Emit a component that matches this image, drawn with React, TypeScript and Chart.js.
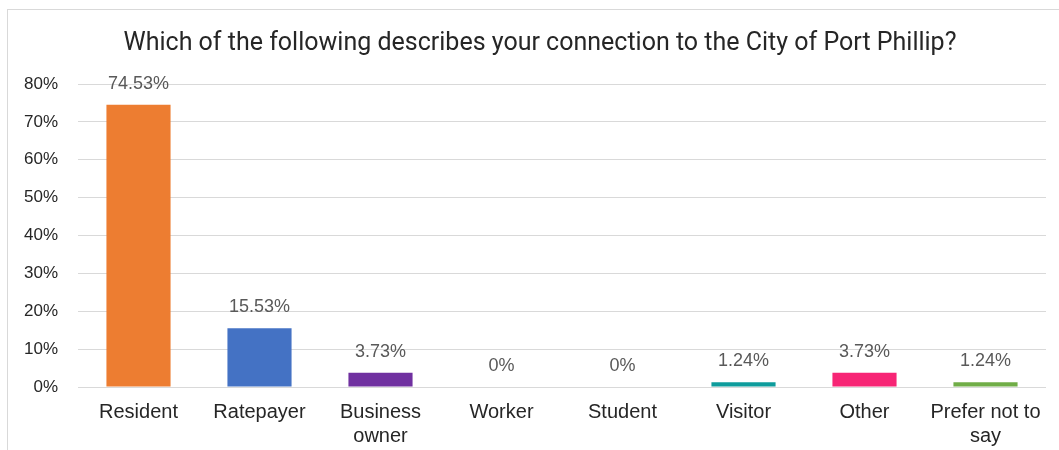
import React, { useEffect, useRef } from "react";
import { Chart, registerables } from "chart.js";

Chart.register(...registerables);

const TITLE = "Which of the following describes your connection to the City of Port Phillip?";
const categories: (string | string[])[] = [
  "Resident",
  "Ratepayer",
  ["Business", "owner"],
  "Worker",
  "Student",
  "Visitor",
  "Other",
  ["Prefer not to", "say"],
];
const values = [74.53, 15.53, 3.73, 0, 0, 1.24, 3.73, 1.24];
const barColors = ["#ED7D31", "#4472C4", "#7030A0", "#A5A5A5", "#FFC000", "#0E9C9C", "#F72575", "#70AD47"];
const yTicks = [0, 10, 20, 30, 40, 50, 60, 70, 80];

const valueLabels = {
  id: "valueLabels",
  afterDatasetsDraw(chart: any) {
    const ctx = chart.ctx;
    const meta = chart.getDatasetMeta(0);
    ctx.save();
    ctx.font = "18px 'Liberation Sans', Arial, sans-serif";
    ctx.fillStyle = "#595959";
    ctx.textAlign = "center";
    ctx.textBaseline = "middle";
    meta.data.forEach((bar: any, i: number) => {
      const v = values[i];
      const txt = (v === 0 ? "0" : v.toFixed(2)) + "%";
      ctx.fillText(txt, bar.x, bar.y - 21);
    });
    ctx.restore();
  },
};

const titlePlugin = {
  id: "fixedTitle",
  afterDraw(chart: any) {
    const ctx = chart.ctx;
    ctx.save();
    ctx.font = "25px Roboto, 'DejaVu Sans Condensed', sans-serif";
    ctx.fillStyle = "#262626";
    ctx.textAlign = "center";
    ctx.textBaseline = "middle";
    ctx.fillText(TITLE, 540, 44);
    ctx.restore();
  },
};

export default function App() {
  const ref = useRef<HTMLCanvasElement | null>(null);
  useEffect(() => {
    if (!ref.current) return;
    const chart = new Chart(ref.current, {
      type: "bar",
      data: {
        labels: categories,
        datasets: [
          {
            data: values,
            backgroundColor: barColors,
            borderWidth: 0,
            categoryPercentage: 1,
            barPercentage: 0.53,
          },
        ],
      },
      options: {
        animation: false,
        responsive: false,
        maintainAspectRatio: false,
        layout: { padding: { left: 0, right: 13, top: 84, bottom: 0 } },
        plugins: {
          legend: { display: false },
          tooltip: { enabled: false },
          title: { display: false },
        },
        scales: {
          x: {
            afterFit(axis: any) {
              axis.height = 63;
            },
            grid: { display: false, drawTicks: false },
            border: { display: false },
            ticks: {
              color: "#262626",
              padding: 13,
              maxRotation: 0,
              autoSkip: false,
              font: { family: "'Liberation Sans', Arial, sans-serif", size: 20, lineHeight: 1.2 },
            },
          },
          y: {
            min: 0,
            max: 80,
            afterBuildTicks(axis: any) {
              axis.ticks = yTicks.map((v) => ({ value: v }));
            },
            afterFit(axis: any) {
              axis.width = 78;
            },
            grid: { color: "#D9D9D9", lineWidth: 1, drawTicks: false },
            border: { display: false },
            ticks: {
              color: "#262626",
              padding: 20,
              font: { family: "'Liberation Sans', Arial, sans-serif", size: 17 },
              callback: (v: any) => v + "%",
            },
          },
        },
      },
      plugins: [valueLabels, titlePlugin],
    });
    return () => chart.destroy();
  }, []);
  return (
    <div style={{ position: "absolute", left: 0, top: 0, width: 1059, height: 450, background: "#fff" }}>
      <div
        style={{
          position: "absolute",
          left: 7,
          top: 9,
          right: 0,
          bottom: 0,
          borderLeft: "1px solid #D9D9D9",
          borderTop: "1px solid #D9D9D9",
        }}
      />
      <canvas ref={ref} width={1059} height={450} style={{ position: "absolute", left: 0, top: 0 }} />
    </div>
  );
}
